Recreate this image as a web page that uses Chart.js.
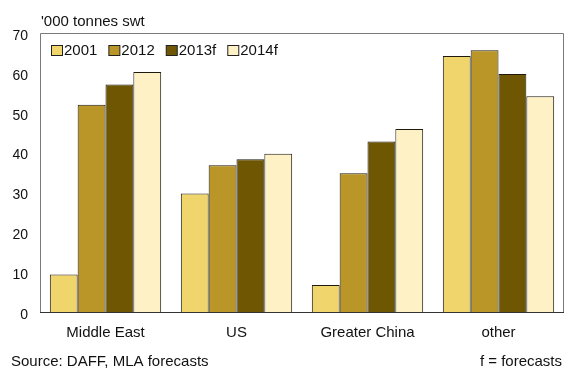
<!DOCTYPE html>
<html>
<head>
<meta charset="utf-8">
<script src="https://cdn.jsdelivr.net/npm/chart.js@4"></script>
<style>
  html, body { margin: 0; padding: 0; background: #fff; }
  #wrap { width: 564px; height: 370px; }
</style>
</head>
<body>
<div id="wrap"><canvas id="lambChart" width="564" height="370"></canvas></div>
<script>
// markets and yearly volumes ('000 tonnes swt)
const markets = ['Middle East', 'US', 'Greater China', 'other'];
const years = ['2001', '2012', '2013f', '2014f'];
const vol2001 = [9.4, 29.7, 6.8, 64.2];
const vol2012 = [52.0, 36.8, 34.8, 65.7];
const vol2013 = [57.1, 38.3, 42.8, 59.7];
const vol2014 = [60.2, 39.7, 45.9, 54.1];
const yTicks = [0, 10, 20, 30, 40, 50, 60, 70];

const fills = ['#EFD56B', '#BA9628', '#6E5603', '#FEF1C6'];
const FONT = '"Liberation Sans", Arial, Helvetica, sans-serif';

const series = [vol2001, vol2012, vol2013, vol2014];

// frame, unit label, legend inside the plot and footer notes
const decorations = {
  id: 'decorations',
  afterDraw(chart) {
    const ctx = chart.ctx;
    const a = chart.chartArea;
    ctx.save();
    ctx.strokeStyle = '#7a7a7a';
    ctx.lineWidth = 1;
    ctx.beginPath();
    ctx.moveTo(a.left + 0.5, a.bottom);
    ctx.lineTo(a.left + 0.5, a.top + 0.5);
    ctx.lineTo(a.right - 0.5, a.top + 0.5);
    ctx.lineTo(a.right - 0.5, a.bottom);
    ctx.stroke();
    ctx.strokeStyle = '#333';
    ctx.beginPath();
    ctx.moveTo(a.left, a.bottom + 0.5);
    ctx.lineTo(a.right, a.bottom + 0.5);
    ctx.stroke();

    ctx.fillStyle = '#111';
    ctx.font = '15px ' + FONT;
    ctx.textBaseline = 'middle';
    ctx.textAlign = 'left';
    ctx.fillText("'000 tonnes swt", 41, 22);

    // legend
    let x = a.left + 11;
    const ly = 51;
    years.forEach((yr, i) => {
      ctx.fillStyle = fills[i];
      ctx.fillRect(x + 0.5, ly - 5.5, 11, 10);
      ctx.strokeStyle = '#222';
      ctx.strokeRect(x + 0.5, ly - 5.5, 11, 10);
      ctx.fillStyle = '#111';
      ctx.fillText(yr, x + 13, ly);
      x += 13 + ctx.measureText(yr).width + 11;
    });

    ctx.fillText('Source: DAFF, MLA forecasts', 11, 362);
    ctx.textAlign = 'right';
    ctx.fillText('f = forecasts', 562, 362);
    ctx.restore();
  }
};

new Chart(document.getElementById('lambChart'), {
  type: 'bar',
  data: {
    labels: markets,
    datasets: years.map((yr, i) => ({
      label: yr,
      data: series[i],
      backgroundColor: fills[i],
      borderColor: '#1e1a10',
      borderWidth: 1,
      borderSkipped: 'bottom',
      categoryPercentage: 0.85,
      barPercentage: 1.0
    }))
  },
  options: {
    responsive: false,
    animation: false,
    layout: { padding: { top: 33, right: 0, bottom: 16, left: 0 } },
    plugins: {
      legend: { display: false },
      tooltip: { enabled: false }
    },
    scales: {
      x: {
        grid: { display: false, drawTicks: false },
        border: { display: false },
        ticks: { color: '#111', font: { family: FONT, size: 15 }, padding: 12 }
      },
      y: {
        min: 0,
        max: 70,
        afterBuildTicks(scale) { scale.ticks = yTicks.map(v => ({ value: v })); },
        afterFit(scale) { scale.width = 40; },
        grid: { display: false, drawTicks: false },
        border: { display: false },
        ticks: { color: '#111', font: { family: FONT, size: 14 }, padding: 12, labelOffset: 3 }
      }
    }
  },
  plugins: [decorations]
});
</script>
</body>
</html>
